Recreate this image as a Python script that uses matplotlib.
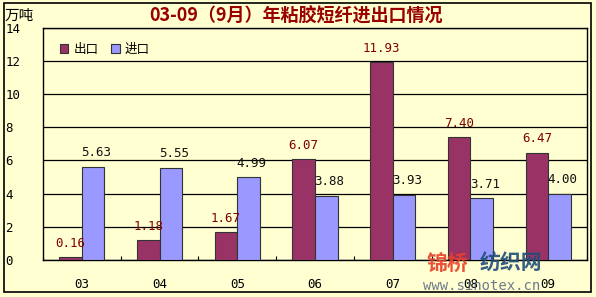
import numpy as np
import matplotlib.pyplot as plt
from matplotlib.patches import Rectangle

plt.rcParams['font.family'] = ['Noto Sans CJK SC', 'DejaVu Sans']

years = ["03", "04", "05", "06", "07", "08", "09"]
export_vals = [0.16, 1.18, 1.67, 6.07, 11.93, 7.40, 6.47]
import_vals = [5.63, 5.55, 4.99, 3.88, 3.93, 3.71, 4.00]
yticks = [0, 2, 4, 6, 8, 10, 12, 14]

BG = "#FFFFD2"
C_EXP = "#993366"
C_IMP = "#9999FF"
MONO = "DejaVu Sans Mono"

fig = plt.figure(figsize=(5.96, 2.97), dpi=100, facecolor=BG)
fig.patches.append(Rectangle((0.006, 0.017), 0.985, 0.972, transform=fig.transFigure,
                             fill=False, edgecolor="black", linewidth=1.2))
ax = fig.add_axes([0.072, 0.125, 0.913, 0.781])
ax.set_facecolor(BG)

x = np.arange(len(years))
w = 0.29
ax.bar(x - w / 2, export_vals, w, color=C_EXP, edgecolor="#333333", linewidth=0.8,
       label="出口", zorder=3)
ax.bar(x + w / 2, import_vals, w, color=C_IMP, edgecolor="#333333", linewidth=0.8,
       label="进口", zorder=3)

for xi, v in zip(x - w / 2, export_vals):
    ax.text(xi, v + 0.45, f"{v:.2f}", ha="center", va="bottom", fontsize=9,
            family=MONO, color="#800000", zorder=4)
for xi, v in zip(x + w / 2, import_vals):
    ax.text(xi + 0.04, v + 0.45, f"{v:.2f}", ha="center", va="bottom", fontsize=9,
            family=MONO, color="#111111", zorder=4)

ax.set_xlim(-0.5, len(years) - 0.5)
ax.set_ylim(0, 14)
ax.set_yticks(yticks)
ax.yaxis.grid(True, color="black", linewidth=0.9, zorder=0)
ax.set_yticklabels([str(t) for t in yticks], family=MONO, fontsize=9)
for lab in ax.get_yticklabels():
    lab.set_horizontalalignment("left")
ax.tick_params(axis="y", length=0, pad=27)

ax.set_xticks(x)
ax.set_xticklabels(years, family=MONO, fontsize=9)
ax.tick_params(axis="x", length=0, pad=13)
ax.set_xticks(np.arange(len(years) + 1) - 0.5, minor=True)
ax.tick_params(axis="x", which="minor", direction="in", length=3, width=0.8)
for s in ax.spines.values():
    s.set_linewidth(1.0)

ax.legend(loc="upper left", ncol=2, frameon=False, fontsize=9, handlelength=0.7,
          handleheight=0.7, columnspacing=1.0, handletextpad=0.4,
          bbox_to_anchor=(0.01, 0.985))

fig.text(0.497, 0.945, "03-09（9月）年粘胶短纤进出口情况", ha="center", va="center",
         fontsize=13, fontweight="bold", color="#990000")
fig.text(0.008, 0.945, "万吨", ha="left", va="center", fontsize=10.5)

# watermark
fig.text(0.716, 0.112, "锦桥", ha="left", va="center", fontsize=15, fontweight="bold",
         color="#E8402A", alpha=0.9, zorder=10)
fig.text(0.805, 0.112, "纺织网", ha="left", va="center", fontsize=15, fontweight="bold",
         color="#1F4E79", alpha=0.9, zorder=10)
fig.text(0.71, 0.037, "www.sinotex.cn", ha="left", va="center", fontsize=10,
         family=MONO, color="#4A5A7A", alpha=0.8, zorder=10)

fig.savefig("out.png", dpi=100, facecolor=BG)
